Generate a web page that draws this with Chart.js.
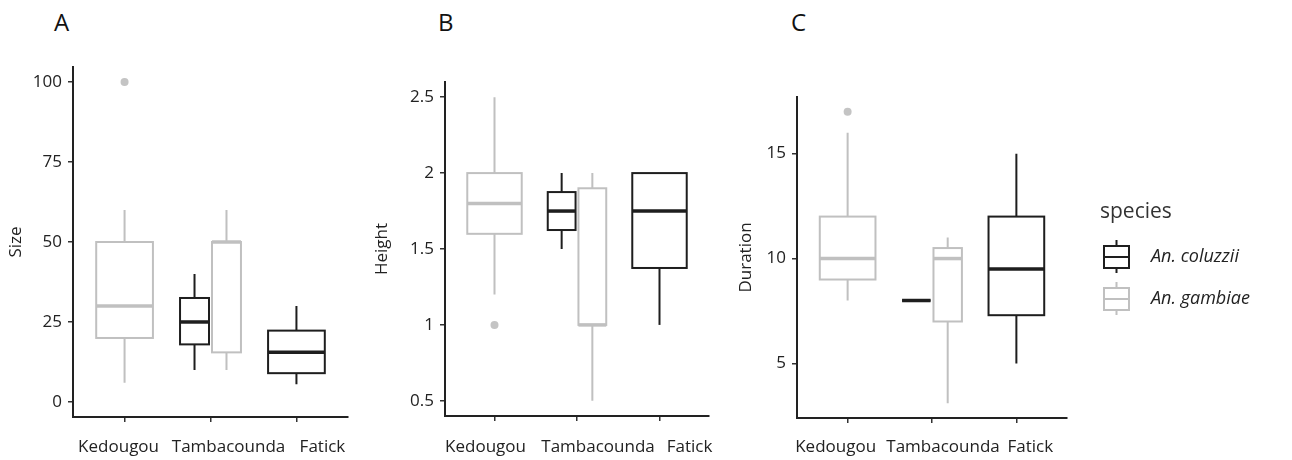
<!DOCTYPE html>
<html>
<head>
<meta charset="utf-8">
<script src="https://cdn.jsdelivr.net/npm/chart.js@4.4.1/dist/chart.umd.min.js"></script>
<style>
  body { margin: 0; background: #fff; width: 1292px; height: 460px; position: relative; overflow: hidden; font-family: 'Open Sans', sans-serif; }
  canvas { position: absolute; top: 0; }
  .tag { position: absolute; top: 10px; font-size: 24px; line-height: 1; color: #111; }
</style>
</head>
<body>
<div class="tag" style="left:54px">A</div>
<div class="tag" style="left:438px">B</div>
<div class="tag" style="left:791px">C</div>
<canvas id="sizeChart" width="370" height="460" style="left:0"></canvas>
<canvas id="heightChart" width="350" height="460" style="left:370px"></canvas>
<canvas id="durationChart" width="572" height="460" style="left:720px"></canvas>
<script>
'use strict'
const sites = ['Kedougou', 'Tambacounda', 'Fatick']
const species = ['An. coluzzii', 'An. gambiae']
const speciesColors = ['#1e1e1e', '#c0c0c0']

// each box: [lower whisker, q1, median, q3, upper whisker], null = no data
const sizeColuzzii = [null, [10, 18, 25, 32.5, 40], [5.5, 9, 15.5, 22.3, 30]]
const sizeGambiae = [[6, 20, 30, 50, 60], [10, 15.5, 50, 50, 60], null]
const sizeOutliersGambiae = [[100], [], []]
const sizeTicks = [0, 25, 50, 75, 100]

const heightColuzzii = [null, [1.5, 1.625, 1.75, 1.875, 2], [1, 1.375, 1.75, 2, 2]]
const heightGambiae = [[1.2, 1.6, 1.8, 2, 2.5], [0.5, 1, 1, 1.9, 2], null]
const heightOutliersGambiae = [[1], [], []]
const heightTicks = [0.5, 1, 1.5, 2, 2.5]

const durationColuzzii = [null, [8, 8, 8, 8, 8], [5, 7.3, 9.5, 12, 15]]
const durationGambiae = [[8, 9, 10, 12, 16], [3.1, 7, 10, 10.5, 11], null]
const durationOutliersGambiae = [[17], [], []]
const durationTicks = [5, 10, 15]

const FONT = "'Open Sans', sans-serif"

// dodge boxes when both species are present at a site
function boxLayout(stats, i, s) {
  if (!(stats[0][i] && stats[1][i])) return { center: i + 1, width: 0.66 }
  return { center: i + 1 + (s === 0 ? -0.186 : 0.186), width: 0.337 }
}

function boxPlugin(stats) {
  return {
    id: 'boxes',
    beforeDatasetsDraw(chart) {
      const { ctx, scales: { x, y } } = chart
      stats.forEach((series, s) => {
        series.forEach((b, i) => {
          if (!b) return
          const { center, width } = boxLayout(stats, i, s)
          const xc = x.getPixelForValue(center)
          const x0 = x.getPixelForValue(center - width / 2)
          const x1 = x.getPixelForValue(center + width / 2)
          const [lo, q1, med, q3, hi] = b.map(v => y.getPixelForValue(v))
          ctx.save()
          ctx.strokeStyle = speciesColors[s]
          ctx.lineWidth = 2
          ctx.beginPath()
          ctx.moveTo(xc, lo); ctx.lineTo(xc, q1)
          ctx.moveTo(xc, q3); ctx.lineTo(xc, hi)
          ctx.stroke()
          ctx.strokeRect(x0, q3, x1 - x0, q1 - q3)
          ctx.lineWidth = 3.5
          ctx.beginPath()
          ctx.moveTo(x0, med); ctx.lineTo(x1, med)
          ctx.stroke()
          ctx.restore()
        })
      })
    }
  }
}

// site names under the x ticks, spread like in the original figure
function siteLabelPlugin(shift) {
  return {
    id: 'siteLabels',
    afterDraw(chart) {
      const { ctx, scales: { x } } = chart
      ctx.save()
      ctx.fillStyle = '#222'
      ctx.font = '17px ' + FONT
      ctx.textAlign = 'center'
      ctx.textBaseline = 'alphabetic'
      sites.forEach((name, i) => ctx.fillText(name, x.getPixelForValue(i + 1) + shift[i], 452))
      ctx.restore()
    }
  }
}

// legend drawn beside panel C
const legendPlugin = {
  id: 'speciesLegend',
  afterDraw(chart) {
    const ctx = chart.ctx
    ctx.save()
    ctx.textBaseline = 'middle'
    ctx.fillStyle = '#333'
    ctx.font = '21px ' + FONT
    ctx.fillText('species', 380, 212)
    species.forEach((name, s) => {
      const mid = 257 + s * 42
      ctx.strokeStyle = speciesColors[s]
      ctx.lineWidth = 2
      ctx.strokeRect(384, mid - 11, 25, 22)
      ctx.beginPath()
      ctx.moveTo(396.5, mid - 17); ctx.lineTo(396.5, mid - 11)
      ctx.moveTo(396.5, mid + 11); ctx.lineTo(396.5, mid + 16)
      ctx.moveTo(384, mid); ctx.lineTo(409, mid)
      ctx.stroke()
      ctx.fillStyle = '#222'
      ctx.font = 'italic 18px ' + FONT
      ctx.fillText(name, 431, mid)
    })
    ctx.restore()
  }
}

function outlierPoints(stats, outliers, s) {
  const pts = []
  outliers.forEach((vals, i) => vals.forEach(v => pts.push({ x: boxLayout(stats, i, s).center, y: v })))
  return pts
}

function makeChart(id, cfg) {
  const stats = [cfg.coluzzii, cfg.gambiae]
  return new Chart(document.getElementById(id), {
    type: 'scatter',
    data: {
      datasets: [{
        label: species[1] + ' outliers',
        data: outlierPoints(stats, cfg.outliers, 1),
        pointRadius: 4,
        pointBackgroundColor: '#c4c4c4',
        pointBorderWidth: 0
      }]
    },
    options: {
      responsive: false,
      animation: false,
      layout: { padding: { top: cfg.top, right: cfg.right, left: 0, bottom: 0 } },
      plugins: { legend: { display: false }, tooltip: { enabled: false } },
      scales: {
        x: {
          type: 'linear', min: 0.4, max: 3.6,
          afterBuildTicks: scale => { scale.ticks = sites.map((_, i) => ({ value: i + 1 })) },
          afterFit: scale => { scale.height = 460 - cfg.bottom },
          grid: { drawOnChartArea: false, drawTicks: true, tickLength: 5, tickColor: '#333', lineWidth: 1.5 },
          border: { display: true, color: '#222', width: 2 },
          ticks: { display: false }
        },
        y: {
          type: 'linear', min: cfg.min, max: cfg.max,
          afterBuildTicks: scale => { scale.ticks = cfg.ticks.map(v => ({ value: v })) },
          afterFit: scale => { scale.width = cfg.left },
          grid: { drawOnChartArea: false, drawTicks: true, tickLength: 5, tickColor: '#333', lineWidth: 1.5 },
          border: { display: true, color: '#222', width: 2 },
          ticks: { callback: v => String(v), padding: 6, color: '#222', font: { size: 17, family: FONT } },
          title: { display: true, text: cfg.title, color: '#222', font: { size: 17, family: FONT }, padding: { top: cfg.titlePad, bottom: 0 } }
        }
      }
    },
    plugins: [boxPlugin(stats), siteLabelPlugin(cfg.labelShift)].concat(cfg.extra || [])
  })
}

makeChart('sizeChart', {
  coluzzii: sizeColuzzii, gambiae: sizeGambiae, outliers: sizeOutliersGambiae, ticks: sizeTicks,
  min: -4.7, max: 104.7, title: 'Size', titlePad: 6,
  left: 73, right: 22, top: 67, bottom: 417, labelShift: [-6, 18, 26]
})
makeChart('heightChart', {
  coluzzii: heightColuzzii, gambiae: heightGambiae, outliers: heightOutliersGambiae, ticks: heightTicks,
  min: 0.4, max: 2.6, title: 'Height', titlePad: 2,
  left: 75, right: 11, top: 82, bottom: 416, labelShift: [-9, 21, 30]
})
makeChart('durationChart', {
  coluzzii: durationColuzzii, gambiae: durationGambiae, outliers: durationOutliersGambiae, ticks: durationTicks,
  min: 2.4, max: 17.7, title: 'Duration', titlePad: 16,
  left: 77, right: 225, top: 97, bottom: 418, labelShift: [-12, 11, 14], extra: [legendPlugin]
})
</script>
</body>
</html>
